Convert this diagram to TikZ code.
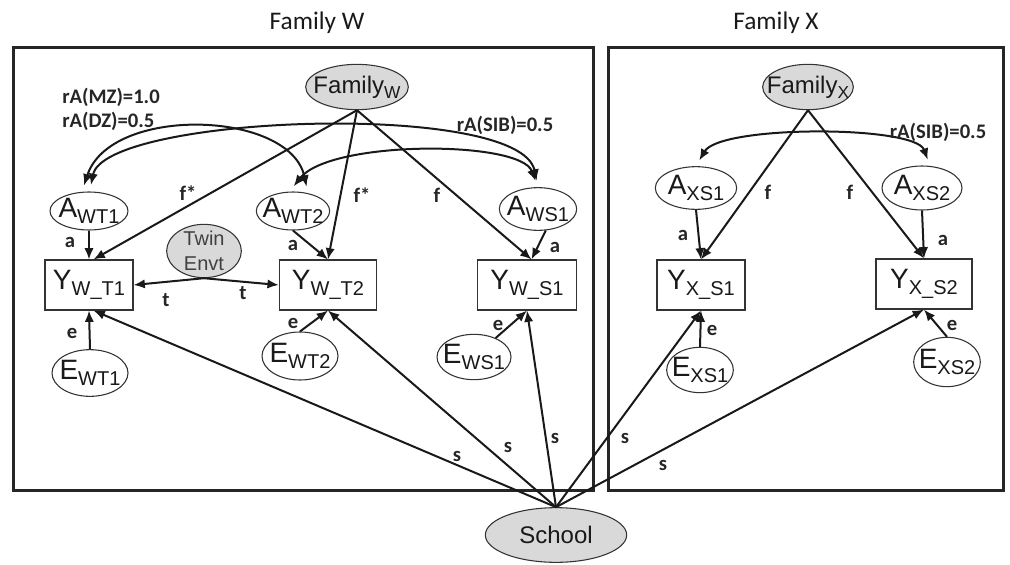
\documentclass[tikz,border=0pt]{standalone}
\usepackage{fontspec}
\setmainfont{Liberation Sans}
\newfontfamily\calfont{Carlito}
\usetikzlibrary{shapes.geometric,arrows.meta}
\newcommand\vsub[2]{{\fontsize{21}{21}\selectfont #1}\raisebox{-5pt}{\fontsize{15}{15}\selectfont #2}}
\newcommand\fsub[2]{{\fontsize{18}{18}\selectfont #1}\raisebox{-4pt}{\fontsize{13}{13}\selectfont #2}}
\begin{document}
\begin{tikzpicture}[x=0.75pt,y=-0.75pt,
  ell/.style={ellipse, draw=black!80, line width=0.8pt, inner sep=0pt, fill=white},
  gell/.style={ell, fill=black!15},
  ntext/.style={inner sep=0pt, text=black!90},
  box/.style={rectangle, draw=black!80, line width=0.8pt, inner sep=0pt, minimum width=66pt, minimum height=37.5pt},
  tip/.tip={Latex[length=8.5pt,width=7pt]},
  arr/.style={-tip, line width=1.5pt, draw=black!90},
  darr/.style={tip-tip, line width=1.5pt, draw=black!90, shorten <=5pt, shorten >=5pt},
  lab/.style={font=\calfont\bfseries\fontsize{15.5}{15.5}\selectfont, text=black!85, inner sep=0pt},
  frame/.style={line width=2.25pt, draw=black!85},
  ttl/.style={font=\calfont\fontsize{19}{19}\selectfont, inner sep=0pt, text=black!90}]
\useasboundingbox (0,0) rectangle (1010,564);

% frames and titles
\draw[frame] (13,47) rectangle (593,490);
\draw[frame] (608,47) rectangle (1003,490);
\node[ttl] (tW) at (317,23) {Family W};
\node[ttl] (tX) at (776,23) {Family X};

% latent nodes
\node[gell, minimum width=77pt, minimum height=34pt, label={[ntext]center:\fsub{Family}{W}}] (FW) at (357,87) {};
\node[gell, minimum width=68pt, minimum height=34pt, label={[ntext]center:\fsub{Family}{X}}] (FX) at (808,87) {};
\node[ell, minimum width=58.5pt, minimum height=28.5pt, label={[ntext]center:\vsub{A}{WT1}}] (A1) at (89,211) {};
\node[ell, minimum width=55pt, minimum height=28.5pt, label={[ntext]center:\vsub{A}{WT2}}] (A2) at (293,211) {};
\node[ell, minimum width=58pt, minimum height=32pt, label={[ntext]center:\vsub{A}{WS1}}] (A3) at (538,209) {};
\node[ell, minimum width=61pt, minimum height=32pt, label={[ntext]center:\vsub{A}{XS1}}] (A4) at (696,188) {};
\node[ell, minimum width=60pt, minimum height=33pt, label={[ntext]center:\vsub{A}{XS2}}] (A5) at (922,188) {};
\node[gell, minimum width=56pt, minimum height=40pt, label={[ntext, text=black!75, align=center, font=\fontsize{15}{19}\selectfont]center:Twin\\Envt}] (TE) at (204,251) {};

\node[box, label={[ntext]center:\vsub{Y}{W\_T1}}] (Y1) at (89,285) {};
\node[box, minimum width=73pt, label={[ntext]center:\vsub{Y}{W\_T2}}] (Y2) at (328,285) {};
\node[box, minimum width=74pt, label={[ntext]center:\vsub{Y}{W\_S1}}] (Y3) at (527,285) {};
\node[box, label={[ntext]center:\vsub{Y}{X\_S1}}] (Y4) at (701,285) {};
\node[box, minimum width=72pt, label={[ntext]center:\vsub{Y}{X\_S2}}] (Y5) at (924,284) {};

\node[ell, minimum width=57pt, minimum height=35pt, label={[ntext]center:\vsub{E}{WT1}}] (E1) at (90,373) {};
\node[ell, minimum width=57pt, minimum height=36pt, label={[ntext]center:\vsub{E}{WT2}}] (E2) at (300,356) {};
\node[ell, minimum width=55.5pt, minimum height=34pt, label={[ntext]center:\vsub{E}{WS1}}] (E3) at (474,357) {};
\node[ell, minimum width=50pt, minimum height=34pt, label={[ntext]center:\vsub{E}{XS1}}] (E4) at (700,370) {};
\node[ell, minimum width=50pt, minimum height=37pt, label={[ntext]center:\vsub{E}{XS2}}] (E5) at (947,362) {};

\node[gell, minimum width=106pt, minimum height=41pt, label={[ntext, font=\fontsize{18}{18}\selectfont]center:School}] (SC) at (556,535) {};

% genetic paths
\draw[arr] (A1.south) -- (Y1.north);
\draw[arr] (A2.south) -- (Y2.north);
\draw[arr] (A3.-70) -- (Y3.80);
\draw[arr] (A4.south) -- (Y4.north);
\draw[arr] (A5.south) -- (Y5.north);

% family paths
\draw[arr] (FW.south) -- (Y1.80);
\draw[arr] (FW.south) -- (Y2.north);
\draw[arr] (FW.south) -- (Y3.80);
\draw[arr] (FX.south) -- (Y4.north);
\draw[arr] (FX.south) -- (Y5.north);

% twin environment
\draw[arr] (TE.south) -- (Y1.east);
\draw[arr] (TE.south) -- (Y2.west);

% unique environment
\draw[arr] (E1.north) -- (Y1.south);
\draw[arr] (E2.north) -- (Y2.south);
\draw[arr] (E3) -- (Y3.south);
\draw[arr] (E4.north) -- (Y4.south);
\draw[arr] (E5.north) -- (Y5.south);

% school
\draw[arr] (SC.north) -- (Y1.-80);
\draw[arr] (SC.north) -- (Y2.south);
\draw[arr] (SC.north) -- (Y3.south);
\draw[arr] (SC.north) -- (Y4.south);
\draw[arr] (SC.north) -- (Y5.south);

% correlations
\draw[darr] (A1.110) .. controls (110,105) and (290,110) .. (A2.50);
\draw[darr] (A1.88) .. controls (105,115) and (520,100) .. (A3.north);
\draw[darr] (A2.100) .. controls (330,140) and (520,140) .. (A3.north);
\draw[darr] (A4.north) .. controls (720,125) and (915,125) .. (A5.70);

% labels
\node[lab, anchor=west] (l1) at (62,97) {rA(MZ)=1.0};
\node[lab, anchor=west] (l2) at (62,121) {rA(DZ)=0.5};
\node[lab] (l3) at (505,125) {rA(SIB)=0.5};
\node[lab] (l4) at (938,132) {rA(SIB)=0.5};
\node[lab] (f1) at (188,193) {f*};
\node[lab] (f2) at (362,195) {f*};
\node[lab] (f3) at (437,195) {f};
\node[lab] (f4) at (768,192) {f};
\node[lab] (f5) at (850,192) {f};
\node[lab] (a1) at (70,242) {a};
\node[lab] (a2) at (293,245) {a};
\node[lab] (a3) at (555,247) {a};
\node[lab] (a4) at (683,235) {a};
\node[lab] (a5) at (943,240) {a};
\node[lab] (e1) at (72,333) {e};
\node[lab] (e2) at (293,323) {e};
\node[lab] (e3) at (498,325) {e};
\node[lab] (e4) at (712,330) {e};
\node[lab] (e5) at (952,325) {e};
\node[lab] (t1) at (166,300) {t};
\node[lab] (t2) at (243,293) {t};
\node[lab] (s1) at (457,456) {s};
\node[lab] (s2) at (508,447) {s};
\node[lab] (s3) at (555,438) {s};
\node[lab] (s4) at (625,438) {s};
\node[lab] (s5) at (663,465) {s};
\end{tikzpicture}
\end{document}
